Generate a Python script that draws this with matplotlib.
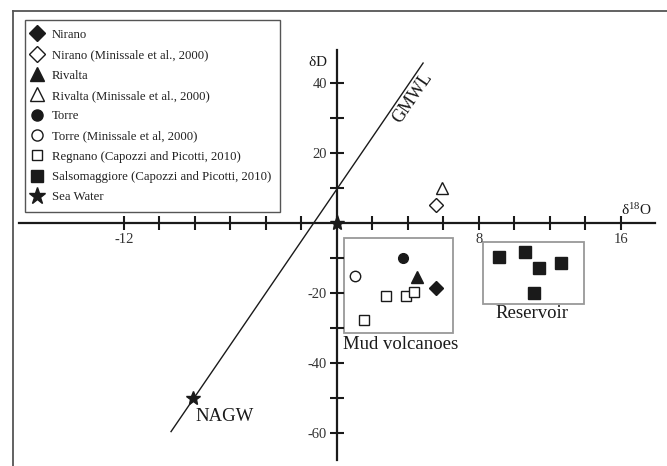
import numpy as np
import matplotlib
matplotlib.use("Agg")
from matplotlib import pyplot as plt
from matplotlib.lines import Line2D
from matplotlib.patches import Rectangle

plt.rcParams['font.family'] = ['Liberation Serif', 'DejaVu Serif']

# isotope data (d18O, dD)
nirano_x, nirano_y = [5.6], [-18.7]
nirano_min_x, nirano_min_y = [5.6], [5.1]
rivalta_x, rivalta_y = [4.5], [-15.3]
rivalta_min_x, rivalta_min_y = [5.9], [10.0]
torre_x, torre_y = [3.7], [-10.1]
torre_min_x, torre_min_y = [1.0], [-15.1]
regnano_x = [2.75, 3.9, 4.35, 1.5]
regnano_y = [-20.9, -20.9, -19.6, -27.7]
salso_x = [9.15, 10.6, 11.4, 12.6, 11.1]
salso_y = [-9.6, -8.4, -12.9, -11.5, -20.1]
sea_x, sea_y = [0.0], [0.0]
nagw_x, nagw_y = [-8.1], [-50.0]
gmwl_x = [-9.35, 4.85]
gmwl_y = [-59.6, 45.7]

xticks = [-12, -10, -8, -6, -4, -2, 0, 2, 4, 6, 8, 10, 12, 14, 16]
xticklabels = ['-12', '', '', '', '', '', '', '', '', '', '8', '', '', '', '16']
yticks = [40, 30, 20, 10, -10, -20, -30, -40, -50, -60]
yticklabels = ['40', '', '20', '', '', '-20', '', '-40', '', '-60']

legend_labels = ['Nirano', 'Nirano (Minissale et al., 2000)', 'Rivalta',
                 'Rivalta (Minissale et al., 2000)', 'Torre', 'Torre (Minissale et al, 2000)',
                 'Regnano (Capozzi and Picotti, 2010)', 'Salsomaggiore (Capozzi and Picotti, 2010)',
                 'Sea Water']

W, H = 667, 466
fig = plt.figure(figsize=(W / 100, H / 100), dpi=100)
ax = fig.add_axes([0, 0, 1, 1])

# pixel mapping: px = 337 + 17.75*x, py = 223 - 3.5*y
ax.set_xlim((0 - 337) / 17.75, (W - 337) / 17.75)
ax.set_ylim((223 - H) / 3.5, 223 / 3.5)
ax.patch.set_alpha(0)

for s in ['top', 'right']:
    ax.spines[s].set_visible(False)
ax.spines['left'].set_position(('data', 0))
ax.spines['bottom'].set_position(('data', 0))
ax.spines['left'].set_bounds(-67.7, 49.4)
ax.spines['bottom'].set_bounds(-17.9, 17.9)
for s in ['left', 'bottom']:
    ax.spines[s].set_linewidth(1.6)
    ax.spines[s].set_color('#1a1a1a')

ax.set_xticks(xticks)
ax.set_xticklabels(xticklabels)
ax.set_yticks(yticks)
ax.set_yticklabels(yticklabels)
ax.tick_params(direction='inout', length=9.5, width=1.5, color='#1a1a1a',
               labelsize=10.5, labelcolor='#333333', pad=2.5)

k = '#1a1a1a'
ax.plot(gmwl_x, gmwl_y, color=k, lw=1.0, zorder=2)

# boxes
ax.add_patch(Rectangle((0.41, -31.5), 6.14, 27.3, fill=False, ec='#999999', lw=1.3, zorder=1))
ax.add_patch(Rectangle((8.2, -23.0), 5.7, 17.7, fill=False, ec='#999999', lw=1.3, zorder=1))

mew = 1.0
ax.plot(nirano_x, nirano_y, 'D', ms=7.5, color=k, ls='none')
ax.plot(nirano_min_x, nirano_min_y, 'D', ms=7.5, mfc='white', mec=k, mew=mew, ls='none')
ax.plot(rivalta_x, rivalta_y, '^', ms=8, color=k, ls='none')
ax.plot(rivalta_min_x, rivalta_min_y, '^', ms=9, mfc='white', mec=k, mew=mew, ls='none')
ax.plot(torre_x, torre_y, 'o', ms=7, color=k, ls='none')
ax.plot(torre_min_x, torre_min_y, 'o', ms=7.5, mfc='white', mec=k, mew=mew, ls='none')
ax.plot(regnano_x, regnano_y, 's', ms=7, mfc='white', mec=k, mew=mew, ls='none')
ax.plot(salso_x, salso_y, 's', ms=8, color=k, ls='none')
ax.plot(sea_x, sea_y, '*', ms=11, color=k, ls='none', zorder=5)
ax.plot(nagw_x, nagw_y, '*', ms=10, color=k, ls='none', zorder=5)

# legend proxies
styles = [('D', k, 8.5), ('D', 'white', 8.5), ('^', k, 9.5), ('^', 'white', 9.5),
          ('o', k, 8), ('o', 'white', 8), ('s', 'white', 7.5), ('s', k, 8.5), ('*', k, 12.5)]
handles = [Line2D([], [], marker=m, ms=ms, mfc=fc, mec=k, mew=mew, ls='none')
           for m, fc, ms in styles]

# labels
ax.text(0.34, -36.0, 'Mud volcanoes', fontsize=13.5, color=k, va='baseline', ha='left')
ax.text(10.97, -27.2, 'Reservoir', fontsize=13.5, color=k, va='baseline', ha='center')
ax.text(-8.0, -56.6, 'NAGW', fontsize=13.5, color=k, va='baseline', ha='left')
ax.text(4.28, 35.7, 'GMWL', fontsize=13, color=k, va='center', ha='center', rotation=55.7)
ax.text(-1.07, 46.0, r'$\mathregular{\delta D}$', fontsize=11, color=k, va='center', ha='center')
ax.text(16.0, 1.4, r'$\mathregular{\delta^{18}O}$', fontsize=11, color=k, va='bottom', ha='left')

leg = ax.legend(handles=handles, labels=legend_labels,
                loc='upper left', bbox_to_anchor=(25 / W, 1 - 20 / H), bbox_transform=fig.transFigure,
                fontsize=9.2, frameon=True, fancybox=False, framealpha=1, edgecolor='#555555',
                borderpad=0.7, labelspacing=0.65, handlelength=0.5, handletextpad=0.9,
                borderaxespad=0)
leg.get_frame().set_linewidth(1.0)
for t in leg.get_texts():
    t.set_color('#222222')

# outer frame
fig.add_artist(Line2D([13 / W, 1.0], [1 - 11 / H, 1 - 11 / H], color='#555555', lw=1.3,
                      transform=fig.transFigure))
fig.add_artist(Line2D([13.5 / W, 13.5 / W], [1 - 11 / H, 0], color='#555555', lw=1.3,
                      transform=fig.transFigure))

fig.savefig('out.png', dpi=100)
